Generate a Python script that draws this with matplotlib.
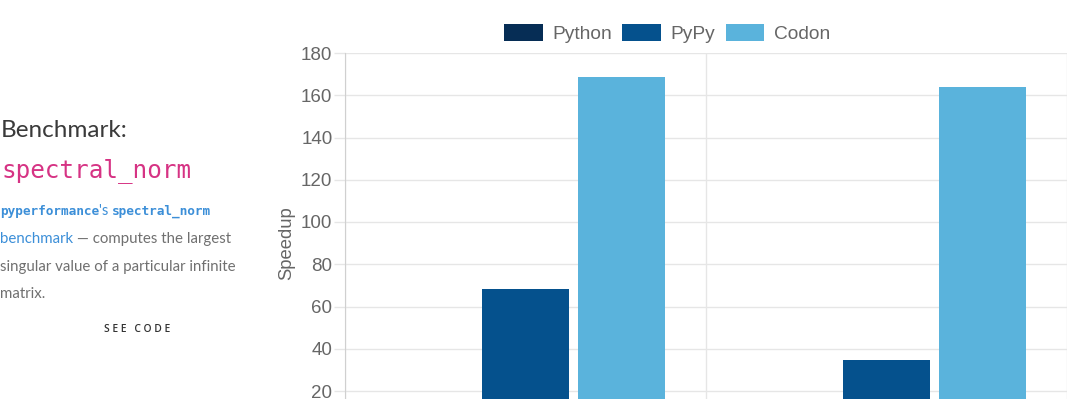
import matplotlib
matplotlib.use("Agg")
import matplotlib.pyplot as plt
from matplotlib.patches import Patch

# --- data (speedup relative to Python) ---
series = ["Python", "PyPy", "Codon"]
python_speedup = [1.0, 1.0]
pypy_speedup = [68.5, 34.8]
codon_speedup = [168.8, 164.0]
colors = ["#062d55", "#05518d", "#5ab3dc"]
yticks = [20, 40, 60, 80, 100, 120, 140, 160, 180]

plt.rcParams["font.family"] = ["Liberation Sans", "DejaVu Sans"]

W, H = 1080, 399
fig = plt.figure(figsize=(W / 100, H / 100), dpi=100)

# axes run past the bottom edge, the reference is cropped there
left, right, top, bottom = 345, 1067, 53, 433.25
ax = fig.add_axes([left / W, 1 - bottom / H, (right - left) / W, (bottom - top) / H])

slot = 0.8 / 3
barw = slot * 0.9
vals = [python_speedup, pypy_speedup, codon_speedup]
for i, (v, c) in enumerate(zip(vals, colors)):
    xs = [g + (i - 1) * slot for g in range(len(v))]
    ax.bar(xs, v, width=barw, color=c, zorder=2)

ax.set_xlim(-0.5, 1.5)
ax.set_ylim(0, 180)
ax.set_yticks(yticks)
ax.set_xticks([-0.5, 0.5, 1.5])
ax.set_xticklabels([])
ax.tick_params(axis="x", length=0)
ax.tick_params(axis="y", length=8, width=1, color="#e6e6e6", pad=1,
               labelsize=13.5, labelcolor="#666666")
ax.grid(True, color="#e6e6e6", linewidth=1, zorder=0)
for s in ["top", "right", "bottom"]:
    ax.spines[s].set_visible(False)
ax.spines["left"].set_color("#d0d0d0")
ax.set_ylabel("Speedup", fontsize=13.3, color="#666666", labelpad=4)

handles = [Patch(facecolor=c, label=s) for s, c in zip(series, colors)]
fig.legend(handles=handles, loc="center", bbox_to_anchor=(667 / W, 1 - 33.7 / H),
           ncol=3, frameon=False, fontsize=13.8, labelcolor="#666666",
           handlelength=2.0, handleheight=1.0, handletextpad=0.5, columnspacing=0.55)

# --- left text panel ---
renderer = fig.canvas.get_renderer()


def put_line(pieces, x0, y):
    # pieces: (text, color, family, size, weight)
    x = x0
    for txt, col, fam, size, wt in pieces:
        t = fig.text(x / W, 1 - y / H, txt, color=col, family=fam, fontsize=size,
                     fontweight=wt, va="baseline", ha="left")
        bb = t.get_window_extent(renderer)
        x += bb.width


sans = ["Lato", "DejaVu Sans"]
mono = ["DejaVu Sans Mono"]
blue = "#3c8fd8"
grey = "#707070"

put_line([("Benchmark:", "#3a3a3a", sans, 17.5, "normal")], 1, 137)
put_line([("spectral_norm", "#d63384", mono, 17.5, "normal")], 1, 177)
put_line([("pyperformance", blue, mono, 9.2, "bold"), ("'s ", blue, sans, 10.6, "normal"),
          ("spectral_norm", blue, mono, 9.2, "bold")], 0, 215)
put_line([("benchmark", blue, sans, 10.8, "normal"),
          (" \u2014 computes the largest", grey, sans, 10.8, "normal")], 0, 243)
put_line([("singular value of a particular infinite", grey, sans, 10.8, "normal")], 0, 271)
put_line([("matrix.", grey, sans, 10.8, "normal")], 0, 298)

fig.text(137.5 / W, 1 - 332.5 / H, "S E E   C O D E", color="#333333", family=["Open Sans", "DejaVu Sans"],
         fontsize=7.4, fontweight="semibold", ha="center", va="baseline")

fig.savefig("out.png", dpi=100, facecolor="white")
